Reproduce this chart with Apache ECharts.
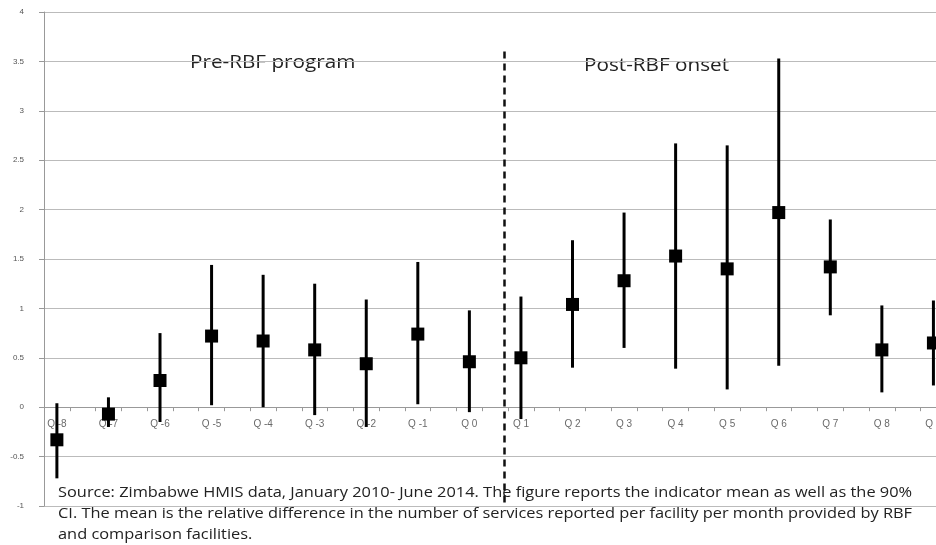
<!DOCTYPE html>
<html><head><meta charset="utf-8">
<script src="https://cdn.jsdelivr.net/npm/echarts@6/dist/echarts.min.js"></script>
<style>html,body{margin:0;padding:0;background:#fff}#main{width:936px;height:545px}</style>
</head><body><div id="main"></div>
<script>
var quarters = [-8,-7,-6,-5,-4,-3,-2,-1,0,1,2,3,4,5,6,7,8,9];
var means = [-0.33,-0.07,0.27,0.72,0.67,0.58,0.44,0.74,0.46,0.5,1.04,1.28,1.53,1.4,1.97,1.42,0.58,0.65];
var highs = [0.04,0.1,0.75,1.44,1.34,1.25,1.09,1.47,0.98,1.12,1.69,1.97,2.67,2.65,3.53,1.9,1.03,1.08];
var lows = [-0.72,-0.2,-0.15,0.02,0.0,-0.08,-0.2,0.03,-0.05,-0.12,0.4,0.6,0.39,0.18,0.42,0.93,0.15,0.22];
var onsetX = 0.68;

var chart = echarts.init(document.getElementById('main'));
var xMin = -8.25, xMax = 9.05;
chart.setOption({
  animation: false,
  grid: {left: 44, right: 0, top: 12, bottom: 39},
  xAxis: {
    type: 'value', min: xMin, max: xMax, interval: 0.5,
    axisLine: {onZero: true, lineStyle: {color: '#999'}},
    axisTick: {lineStyle: {color: '#999'}, length: 4},
    axisLabel: {show: false}, splitLine: {show: false}
  },
  yAxis: {
    type: 'value', min: -1, max: 4, interval: 0.5,
    axisLine: {show: true, onZero: false, lineStyle: {color: '#999'}},
    axisTick: {show: true, lineStyle: {color: '#999'}},
    axisLabel: {color: '#555', fontSize: 8, margin: 20},
    splitLine: {lineStyle: {color: '#bbb'}}
  },
  series: [{
    // quarter labels sitting under the zero line
    type: 'scatter', symbolSize: 0, silent: true, z: 1,
    data: quarters.map(function (q) { return [q, 0]; }),
    label: {show: true, position: 'bottom', distance: 12, color: '#444', fontSize: 10,
      formatter: function (p) { return 'Q ' + p.value[0]; }}
  }, {
    type: 'custom',
    data: quarters.map(function (q, i) { return [q, lows[i], highs[i]]; }),
    renderItem: function (params, api) {
      var a = api.coord([api.value(0), api.value(1)]);
      var b = api.coord([api.value(0), api.value(2)]);
      return {type: 'line', shape: {x1: a[0], y1: a[1], x2: b[0], y2: b[1]},
        style: {stroke: '#000', lineWidth: 3}};
    },
    z: 2
  }, {
    type: 'scatter', symbol: 'rect', symbolSize: 13,
    itemStyle: {color: '#000', opacity: 1},
    data: quarters.map(function (q, i) { return [q, means[i]]; }),
    z: 3,
    markLine: {
      silent: true, symbol: 'none', label: {show: false},
      lineStyle: {color: '#111', type: [7, 5], width: 2.5},
      data: [[{coord: [onsetX, 3.6]}, {coord: [onsetX, -1]}]]
    }
  }],
  graphic: [
    {type: 'text', x: 190, y: 54, scaleX: 1.15, style: {text: 'Pre-RBF program', font: '18px "Open Sans", sans-serif', fill: '#222'}},
    {type: 'text', x: 584, y: 57, scaleX: 1.15, style: {text: 'Post-RBF onset', font: '18px "Open Sans", sans-serif', fill: '#222'}},
    {type: 'text', x: 58, y: 483, scaleX: 1.17, style: {
      text: 'Source: Zimbabwe HMIS data, January 2010- June 2014. The figure reports the indicator mean as well as the 90%\nCI. The mean is the relative difference in the number of services reported per facility per month provided by RBF\nand comparison facilities.',
      font: '14px "Open Sans", sans-serif', fill: '#222', lineHeight: 21}}
  ]
});
</script></body></html>
